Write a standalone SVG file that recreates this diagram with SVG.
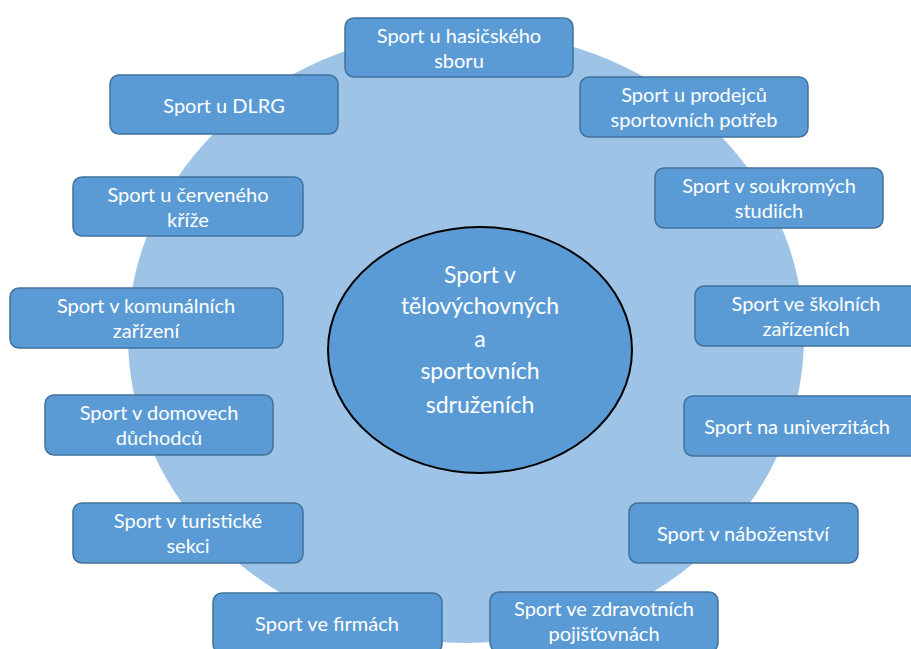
<svg xmlns="http://www.w3.org/2000/svg" width="911" height="649" viewBox="0 0 911 649">
<style>
.box{fill:#5b9bd5;stroke:#41719c;stroke-width:1.5}
.t{font-family:Lato,"Open Sans","Liberation Sans",sans-serif;font-size:20px;fill:#ffffff;text-anchor:middle}
.c{font-family:Lato,"Open Sans","Liberation Sans",sans-serif;font-size:23px;fill:#ffffff;text-anchor:middle}
</style>
<rect width="911" height="649" fill="#ffffff"/>
<ellipse id="bg" cx="466" cy="337" rx="338" ry="306" fill="#9dc3e6"/>
<g id="connectors"></g>
<g id="center">
<ellipse cx="480" cy="350" rx="152" ry="123" fill="#5b9bd5" stroke="#000" stroke-width="2"/>
<text class="c" x="480" y="283">Sport v</text>
<text class="c" x="480" y="314">tělovýchovných</text>
<text class="c" x="480" y="347">a</text>
<text class="c" x="480" y="379">sportovních</text>
<text class="c" x="480" y="413">sdruženích</text>
</g>
<g id="n1"><rect class="box" x="345" y="18" width="228" height="59" rx="9"/><text class="t" x="459" y="43">Sport u hasičského</text><text class="t" x="459" y="68">sboru</text></g>
<g id="n2"><rect class="box" x="110" y="75" width="228" height="59" rx="9"/><text class="t" x="224" y="113">Sport u DLRG</text></g>
<g id="n3"><rect class="box" x="580" y="77" width="228" height="60" rx="9"/><text class="t" x="694" y="102">Sport u prodejců</text><text class="t" x="694" y="127">sportovních potřeb</text></g>
<g id="n4"><rect class="box" x="73" y="177" width="230" height="59" rx="9"/><text class="t" x="188" y="202">Sport u červeného</text><text class="t" x="188" y="227">kříže</text></g>
<g id="n5"><rect class="box" x="655" y="168" width="228" height="60" rx="9"/><text class="t" x="769" y="193">Sport v soukromých</text><text class="t" x="769" y="218">studiích</text></g>
<g id="n6"><rect class="box" x="10" y="288" width="273" height="60" rx="9"/><text class="t" x="146" y="313">Sport v komunálních</text><text class="t" x="146" y="338">zařízení</text></g>
<g id="n7"><rect class="box" x="695" y="286" width="228" height="60" rx="9"/><text class="t" x="806" y="311">Sport ve školních</text><text class="t" x="806" y="336">zařízeních</text></g>
<g id="n8"><rect class="box" x="45" y="395" width="228" height="60" rx="9"/><text class="t" x="159" y="420">Sport v domovech</text><text class="t" x="159" y="445">důchodců</text></g>
<g id="n9"><rect class="box" x="684" y="396" width="240" height="60" rx="9"/><text class="t" x="797" y="434">Sport na univerzitách</text></g>
<g id="n10"><rect class="box" x="73" y="503" width="230" height="60" rx="9"/><text class="t" x="188" y="528">Sport v turistické</text><text class="t" x="188" y="553">sekci</text></g>
<g id="n11"><rect class="box" x="629" y="503" width="229" height="60" rx="9"/><text class="t" x="743" y="541">Sport v náboženství</text></g>
<g id="n12"><rect class="box" x="213" y="593" width="229" height="60" rx="9"/><text class="t" x="327" y="631">Sport ve firmách</text></g>
<g id="n13"><rect class="box" x="490" y="592" width="228" height="60" rx="9"/><text class="t" x="604" y="616">Sport ve zdravotních</text><text class="t" x="604" y="641">pojišťovnách</text></g>
</svg>
